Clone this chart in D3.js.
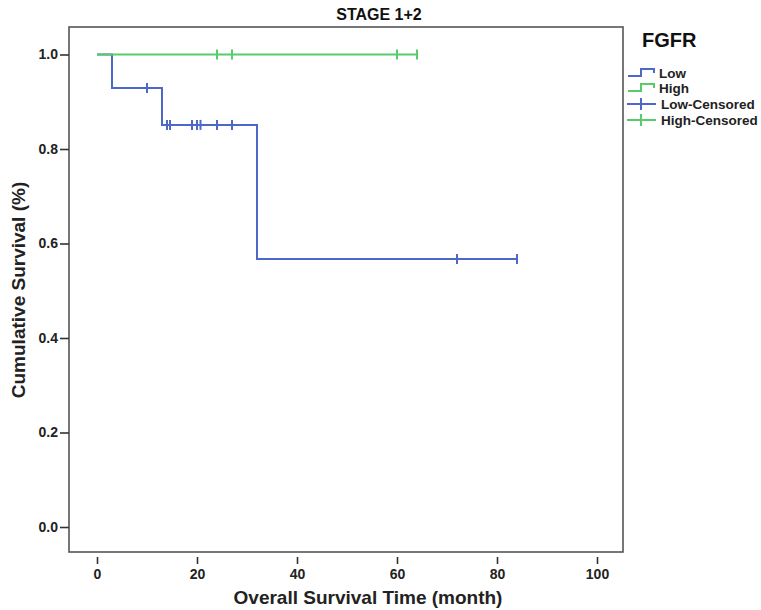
<!DOCTYPE html>
<html>
<head>
<meta charset="utf-8">
<script src="https://cdn.jsdelivr.net/npm/d3@7"></script>
<style>
  body { margin: 0; background: #fff; }
  svg { display: block; font-family: "Liberation Sans", Arial, sans-serif; }
</style>
</head>
<body>
<svg id="chart" width="761" height="610"></svg>
<script>
"use strict";

// data
let xTicks = [0, 20, 40, 60, 80, 100];
let yTicks = [0, 0.2, 0.4, 0.6, 0.8, 1.0];

// Low group: step points (time, survival)
let lowTimes = [0, 3, 13, 32, 84];
let lowSurv = [1.0, 0.929, 0.851, 0.567, 0.567];
let lowCensored = [10, 14, 14.6, 19, 20, 20.7, 24, 27, 72, 84];

// High group: no events
let highTimes = [0, 64];
let highSurv = [1.0, 1.0];
let highCensored = [24, 27, 60, 64];

let legendLabels = ["Low", "High", "Low-Censored", "High-Censored"];

let blue = "#4d68c8";
let green = "#58cc68";

let svg = d3.select("#chart");

let x = d3.scaleLinear().domain([0, 100]).range([97, 597]);
let y = d3.scaleLinear().domain([0, 1]).range([527, 54.5]);

// frame
svg.append("rect")
    .attr("x", 69).attr("y", 27)
    .attr("width", 623 - 69).attr("height", 552 - 27)
    .style("fill", "none")
    .style("stroke", "#555")
    .style("stroke-width", 1.6);

// title
svg.append("text")
    .attr("x", 379).attr("y", 20)
    .attr("text-anchor", "middle")
    .style("font-size", "16px").style("font-weight", "bold")
    .style("fill", "#111")
    .text("STAGE 1+2");

// x axis
let xAxis = svg.append("g")
    .attr("transform", "translate(0,557)")
    .call(d3.axisBottom(x).tickValues(xTicks).tickSize(7).tickPadding(5).tickFormat(d3.format("d")));
xAxis.select(".domain").remove();
xAxis.selectAll("line").style("stroke", "#333").style("stroke-width", 1.6);
xAxis.selectAll("text")
    .style("font-size", "14px").style("font-weight", "bold")
    .style("font-family", "Liberation Sans, Arial, sans-serif")
    .style("fill", "#222");

// y axis
let yAxis = svg.append("g")
    .attr("transform", "translate(69,0)")
    .call(d3.axisLeft(y).tickValues(yTicks).tickSize(9).tickPadding(2).tickFormat(d3.format(".1f")));
yAxis.select(".domain").remove();
yAxis.selectAll("line").style("stroke", "#333").style("stroke-width", 1.6);
yAxis.selectAll("text")
    .style("font-size", "14px").style("font-weight", "bold")
    .style("font-family", "Liberation Sans, Arial, sans-serif")
    .style("fill", "#222");

// axis titles
svg.append("text")
    .attr("x", 368).attr("y", 604)
    .attr("text-anchor", "middle")
    .style("font-size", "19px").style("font-weight", "bold")
    .style("fill", "#222")
    .text("Overall Survival Time (month)");

svg.append("text")
    .attr("transform", "translate(25,290)rotate(-90)")
    .attr("text-anchor", "middle")
    .style("font-size", "19px").style("font-weight", "bold")
    .style("fill", "#222")
    .text("Cumulative Survival (%)");

// survival curves
let line = d3.line()
    .x(d => x(d[0]))
    .y(d => y(d[1]))
    .curve(d3.curveStepAfter);

function survAt(times, surv, t) {
    let s = surv[0];
    for (let i = 0; i < times.length; i++) if (times[i] <= t) s = surv[i];
    return s;
}

function drawGroup(times, surv, censored, color) {
    svg.append("path")
        .datum(times.map((t, i) => [t, surv[i]]))
        .attr("d", line)
        .style("fill", "none")
        .style("stroke", color)
        .style("stroke-width", 2);

    svg.selectAll(null)
        .data(censored)
        .enter()
        .append("line")
        .attr("x1", d => x(d)).attr("x2", d => x(d))
        .attr("y1", d => y(survAt(times, surv, d)) - 5)
        .attr("y2", d => y(survAt(times, surv, d)) + 5)
        .style("stroke", color)
        .style("stroke-width", 2);
}

drawGroup(lowTimes, lowSurv, lowCensored, blue);
drawGroup(highTimes, highSurv, highCensored, green);

// legend
svg.append("text")
    .attr("x", 642).attr("y", 47)
    .style("font-size", "20px").style("font-weight", "bold")
    .style("fill", "#111")
    .text("FGFR");

let legendColors = [blue, green, blue, green];
let legendY = [73, 88, 104, 120];

legendLabels.forEach((label, i) => {
    let ly = legendY[i];
    if (i < 2) {
        svg.append("path")
            .attr("d", `M628,${ly + 3}H641V${ly - 4}H654V${ly}`)
            .style("fill", "none")
            .style("stroke", legendColors[i])
            .style("stroke-width", 2);
    } else {
        svg.append("line")
            .attr("x1", 627).attr("x2", 656)
            .attr("y1", ly).attr("y2", ly)
            .style("stroke", legendColors[i]).style("stroke-width", 2);
        svg.append("line")
            .attr("x1", 641).attr("x2", 641)
            .attr("y1", ly - 6).attr("y2", ly + 6)
            .style("stroke", legendColors[i]).style("stroke-width", 2);
    }
    svg.append("text")
        .attr("x", i < 2 ? 659 : 661).attr("y", ly + 5)
        .style("font-size", "13.5px").style("font-weight", "bold")
        .style("fill", "#222")
        .text(label);
});
</script>
</body>
</html>
